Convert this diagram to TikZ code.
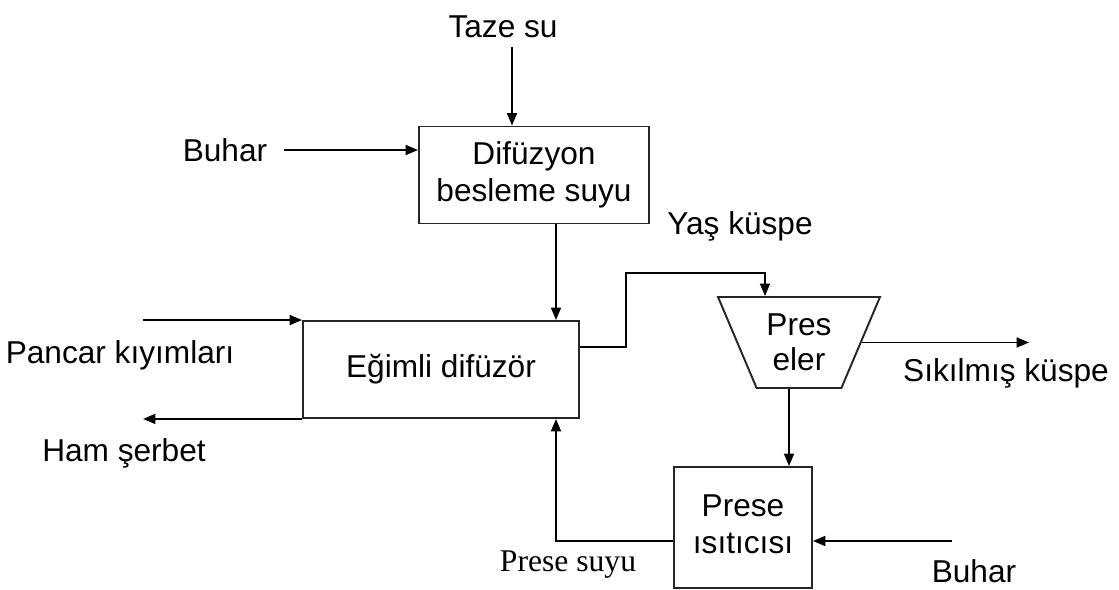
\documentclass[tikz,border=0pt]{standalone}
\usepackage{fontspec}
\setmainfont{Liberation Sans}
\newfontfamily\serifsu{Liberation Serif}
\usepackage{tikz}
\usetikzlibrary{shapes.geometric, arrows.meta, positioning, calc}
\tikzset{
  box/.style={rectangle, draw=black!85, line width=1.1pt, align=center,
    inner sep=0pt, font=\fontsize{18}{21}\selectfont},
  presbox/.style={trapezium, draw=black!85, line width=1.1pt, align=center,
    shape border rotate=180, trapezium angle=56, trapezium stretches body,
    minimum height=1.82cm, minimum width=3.24cm, inner sep=0pt,
    font=\fontsize{18}{20}\selectfont},
  lbl/.style={inner sep=0pt, font=\fontsize{18}{21}\selectfont},
  arrow/.style={-{Triangle[length=0.25cm, width=0.2cm]}, line width=1.1pt},
  line/.style={line width=1.1pt}
}

\begin{document}
\begin{tikzpicture}[x=0.02cm, y=-0.02cm]
  \useasboundingbox (0,0) rectangle (1119,590);

  % Process units
  \node[box, minimum width=4.6cm, minimum height=1.94cm] (difu) at (534,175) {Difüzyon\\besleme suyu};
  \node[box, minimum width=5.52cm, minimum height=1.94cm] (egim) at (441,369.5) {\raisebox{-0.1cm}{Eğimli difüzör}};
  \node[presbox] (pres) at (799,342.5) {Pres\\eler};
  \node[box, minimum width=2.76cm, minimum height=2.42cm] (isit) at (743,527.5)
    {\raisebox{0.17cm}{\begin{tabular}{@{}c@{}}Prese\\ısıtıcısı\end{tabular}}};

  % Stream labels
  \node[lbl] (taze) at (503,27) {Taze su};
  \node[lbl] (buhar1) at (225,150) {Buhar};
  \node[lbl] (pancar) at (120,355) {Pancar kıyımları};
  \node[lbl] (ham) at (124,453) {Ham şerbet};
  \node[lbl] (yas) at (740,226) {Yaş küspe};
  \node[lbl] (sikil) at (1006,373) {Sıkılmış küspe};
  \node[lbl] (buhar2) at (974,571) {Buhar};
  \node[lbl, font=\serifsu\fontsize{18}{21}\selectfont] (suyu) at (568,565) {Prese suyu};

  % Free ends of the streams
  \coordinate (tazeA) at (512,47);
  \coordinate (pancarA) at (143,322);
  \coordinate (hamA) at (143,418);
  \coordinate (yasA) at (626,273);
  \coordinate (sikA) at (1029,346);
  \coordinate (buhar2A) at (952,541);

  % Streams
  \draw[arrow] (tazeA) -- (tazeA |- difu.north);
  \draw[arrow] ([xshift=0.32cm]buhar1.east) -- (buhar1.east -| difu.west);
  \draw[arrow] ([xshift=0.44cm]difu.south) -- ([xshift=0.44cm]difu.south |- egim.north);
  \draw[arrow] (pancarA |- egim.north west) -- (egim.north west);
  \draw[arrow] (egim.south west) -- (hamA |- egim.south west);
  \draw[arrow] ([yshift=0.45cm]egim.east) -| (yasA) -| ([xshift=-0.68cm]pres.north);
  \draw[arrow] (pres.east) -- (sikA |- pres.east);
  \draw[arrow] ([xshift=-0.2cm]pres.south) -- ([xshift=-0.2cm]pres.south |- isit.north);
  \draw[arrow] (buhar2A) -- (buhar2A -| isit.east);
  \draw[arrow] ([yshift=-0.27cm]isit.west) -| ([xshift=2.3cm]egim.south);
\end{tikzpicture}
\end{document}
